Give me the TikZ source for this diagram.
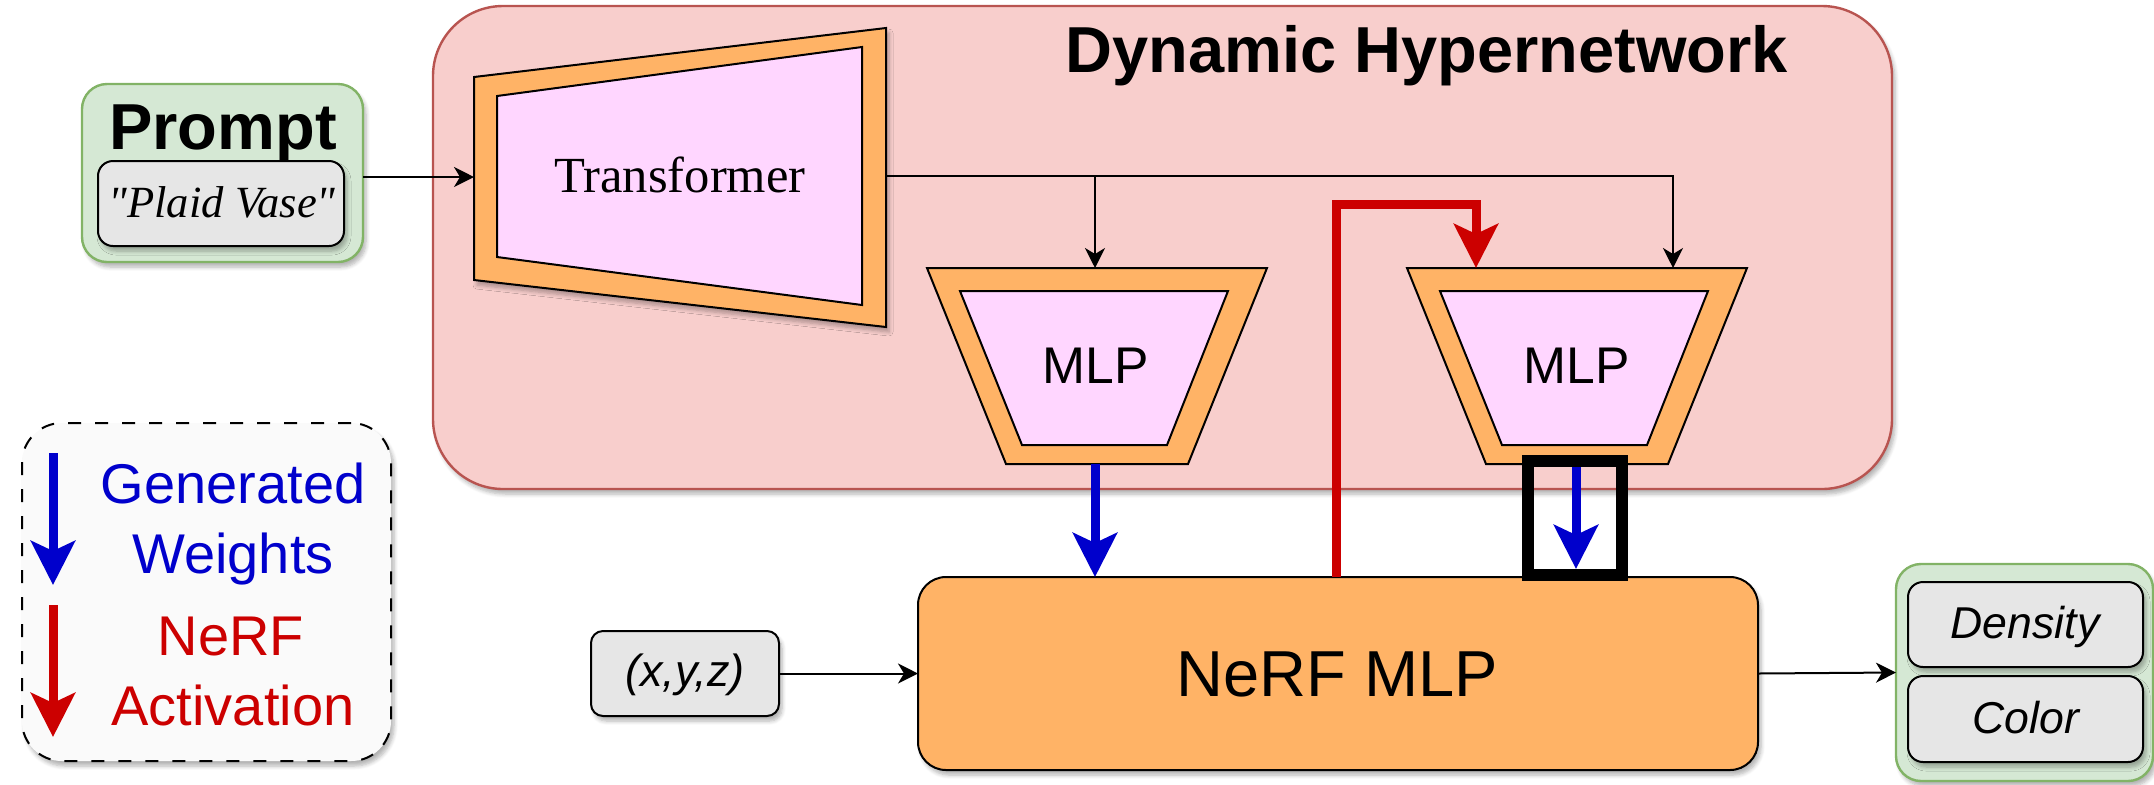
\documentclass[tikz,border=0pt]{standalone}
\usepackage{fontspec}
\setmainfont{Liberation Sans}
\newfontfamily\tnr{Liberation Serif}
\usetikzlibrary{arrows.meta,shadows.blur,calc}
\definecolor{gfill}{HTML}{D5E8D4}
\definecolor{gdraw}{HTML}{82B366}
\definecolor{rfill}{HTML}{F8CECC}
\definecolor{rdraw}{HTML}{B85450}
\definecolor{orng}{HTML}{FFB366}
\definecolor{pnk}{HTML}{FFD6FF}
\definecolor{boxgray}{HTML}{E6E6E6}
\definecolor{legfill}{HTML}{FAFAFA}
\definecolor{wblue}{HTML}{0000CC}
\definecolor{ared}{HTML}{CC0000}
\tikzset{
  shd/.style={blur shadow={shadow xshift=1.5pt,shadow yshift=-2.5pt,shadow opacity=30,shadow blur steps=6,shadow blur radius=2pt}},
  greenbox/.style={draw=gdraw, fill=gfill, line width=1.2pt, rounded corners=12.5pt, inner sep=0pt, outer sep=0pt, shd},
  graybox/.style={draw=black, fill=boxgray, line width=1pt, rounded corners=7.5pt, inner sep=0pt, outer sep=0pt, shd},
  hyperbox/.style={draw=rdraw, fill=rfill, line width=1.2pt, rounded corners=35pt, inner sep=0pt, outer sep=0pt, shd},
  nerfbox/.style={draw=black, fill=orng, line width=1pt, rounded corners=14pt, inner sep=0pt, outer sep=0pt, shd},
  legendbox/.style={draw=black, fill=legfill, line width=1pt, dash pattern=on 6.5pt off 7pt, rounded corners=20pt, inner sep=0pt, outer sep=0pt, shd},
  lbl/.style={inner sep=0pt, anchor=base},
  thinarrow/.style={draw=black, line width=1pt, -{Stealth[length=10pt,width=10pt,inset=3pt]}},
  bluearrow/.style={draw=wblue, line width=4.5pt, -{Stealth[length=22pt,width=22pt,inset=5pt]}},
  redarrow/.style={draw=ared, line width=4.5pt, -{Stealth[length=22pt,width=22pt,inset=5pt]}},
  outerpoly/.style={draw=black, fill=orng, line width=1pt},
  innerpoly/.style={draw=black, fill=pnk, line width=1pt},
  hlbox/.style={draw=black, line width=6pt, inner sep=0pt, outer sep=0pt},
}
\begin{document}
\begin{tikzpicture}[x=0.5pt,y=-0.5pt]
\useasboundingbox (0,0) rectangle (2154,784);

% Dynamic Hypernetwork container
\node[hyperbox, minimum width=729.5pt, minimum height=241.5pt] (hyper) at (1162.5,247.5) {};
\node[lbl, font=\bfseries\fontsize{32.5}{39}\selectfont] (dyn) at (1427,72) {Dynamic Hypernetwork};

% Transformer
\path[outerpoly, shd] (474,77) -- (886,28) -- (886,327) -- (474,280) -- cycle;
\path[innerpoly] (497,96) -- (862,47) -- (862,305) -- (497,257) -- cycle;
\node[lbl, font=\tnr\fontsize{25.3}{30}\selectfont] (trans) at (680,192) {Transformer};

% MLP 1
\path[outerpoly] (927,268) -- (1267,268) -- (1188,464) -- (1006,464) -- cycle;
\path[innerpoly] (960,291) -- (1228,291) -- (1167,445) -- (1022,445) -- cycle;
\node[lbl, font=\fontsize{25.8}{30}\selectfont] (mlpa) at (1096,383) {MLP};

% MLP 2
\path[outerpoly] (1407,268) -- (1747,268) -- (1668,464) -- (1486,464) -- cycle;
\path[innerpoly] (1440,291) -- (1708,291) -- (1647,445) -- (1502,445) -- cycle;
\node[lbl, font=\fontsize{25.8}{30}\selectfont] (mlpb) at (1577,383) {MLP};

% connection points
\coordinate (tin) at (474,177);
\coordinate (tout) at (886,176);
\coordinate (aTop) at (1095,268);
\coordinate (aBot) at (1095,464);
\coordinate (bTop) at (1673,268);
\coordinate (bRed) at (1476,268);
\coordinate (bBot) at (1576,464);
\coordinate (rBend) at (1336,204);

% Prompt
\node[greenbox, minimum width=140.5pt, minimum height=89pt] (prompt) at (222.5,173) {};
\node[lbl, font=\bfseries\fontsize{32.5}{38}\selectfont] (ptitle) at (223,149) {Prompt};
\node[graybox, minimum width=123pt, minimum height=42.5pt] (plaid) at (221,203.5) {};
\node[lbl, font=\tnr\itshape\fontsize{22.3}{26}\selectfont] (plaidtxt) at (222,217) {"Plaid Vase"};

% NeRF MLP and I/O
\node[nerfbox, minimum width=420pt, minimum height=96.5pt] (nerf) at (1338,673.5) {};
\node[lbl, font=\fontsize{32.5}{38}\selectfont] (nerftxt) at (1337,696) {NeRF MLP};
\node[graybox, minimum width=94pt, minimum height=42.5pt, rounded corners=6pt] (xyz) at (685,673.5) {};
\node[lbl, font=\itshape\fontsize{22.5}{26}\selectfont] (xyztxt) at (685,686) {(x,y,z)};
\node[greenbox, minimum width=128.5pt, minimum height=108.5pt] (out) at (2024.5,672.5) {};
\node[graybox, minimum width=117.5pt, minimum height=42.5pt] (dens) at (2025.5,624.5) {};
\node[lbl, font=\itshape\fontsize{22.3}{26}\selectfont] (denstxt) at (2025,638) {Density};
\node[graybox, minimum width=117.5pt, minimum height=43pt] (col) at (2025.5,719) {};
\node[lbl, font=\itshape\fontsize{22.3}{26}\selectfont] (coltxt) at (2026,733) {Color};

% connectors
\draw[thinarrow] (prompt.east |- tin) -- (tin);
\draw[thinarrow] (tout) -| (bTop);
\draw[thinarrow] (tout -| aTop) -- (aTop);
\draw[bluearrow] (aBot) -- (aBot |- nerf.north);
\draw[redarrow] (rBend |- nerf.north) -- (rBend) -| (bRed);
\draw[bluearrow] (bBot) -- ([yshift=4pt]bBot |- nerf.north);
\node[hlbox, minimum width=47pt, minimum height=57pt] (hl) at (1575,518) {};
\draw[thinarrow] (xyz.east) -- (nerf.west);
\draw[thinarrow] (nerf.east) -- (out.west);

% Legend
\node[legendbox, minimum width=184.5pt, minimum height=169pt] (legend) at (206.5,592) {};
\coordinate (lbA) at (53,453);
\coordinate (lbB) at (53,585);
\coordinate (lrA) at (53,605);
\coordinate (lrB) at (53,737);
\draw[bluearrow] (lbA) -- (lbB);
\draw[redarrow] (lrA) -- (lrB);
\node[lbl, text=wblue, font=\fontsize{28}{33}\selectfont] (lg1) at (233,503) {Generated};
\node[lbl, text=wblue, font=\fontsize{28}{33}\selectfont] (lg2) at (233,573) {Weights};
\node[lbl, text=ared, font=\fontsize{28}{33}\selectfont] (lg3) at (231,655) {NeRF};
\node[lbl, text=ared, font=\fontsize{28}{33}\selectfont] (lg4) at (233,725) {Activation};
\end{tikzpicture}
\end{document}
